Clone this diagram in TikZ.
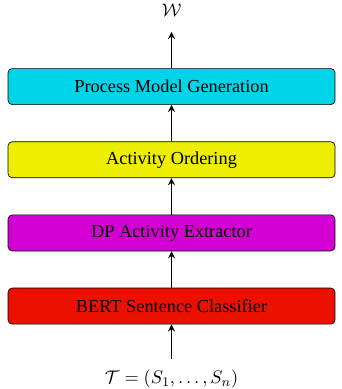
\documentclass[tikz,border=0pt]{standalone}
\usepackage{amsmath}
\usepackage{fontspec}
\setmainfont{Liberation Serif}
\usepackage{tikz}
\usetikzlibrary{positioning}
\definecolor{genblue}{RGB}{0,212,232}
\definecolor{ordyellow}{RGB}{238,238,0}
\definecolor{extmagenta}{RGB}{210,0,210}
\definecolor{bertred}{RGB}{236,16,0}

\begin{document}
\begin{tikzpicture}[%
every node/.style = {font=\fontsize{11}{13}\selectfont},
% common options for the stages:
stage/.style = {draw, rounded corners=2.5pt, align=center,
            minimum width=6.9cm, minimum height=0.76cm, inner sep=0},
% common options for the arrows:
flow/.style = {-stealth, line width=0.9pt}]
\useasboundingbox (0,0) rectangle (7.2,8.21);
\node[stage, fill=bertred] (B0) at (3.62,1.75) {BERT Sentence Classifier};
\node[stage, fill=extmagenta, above=0.77cm of B0] (B1) {DP Activity Extractor};
\node[stage, fill=ordyellow, above=0.77cm of B1] (B2) {Activity Ordering};
\node[stage, fill=genblue, above=0.77cm of B2] (B3) {Process Model Generation};
\node[anchor=base] (In) at (3.62,0.12) {$\mathcal{T} = (S_1,\ldots,S_n)$};
\node[anchor=base] (Out) at (3.62,7.86) {$\mathcal{W}$};
\draw[flow, shorten <=0.1cm] (In.north) to (B0.south);
\draw[flow] (B0.north) to (B1.south);
\draw[flow] (B1.north) to (B2.south);
\draw[flow] (B2.north) to (B3.south);
\draw[flow, shorten >=0.2cm] (B3.north) to (Out.south);
\end{tikzpicture}
\end{document}
